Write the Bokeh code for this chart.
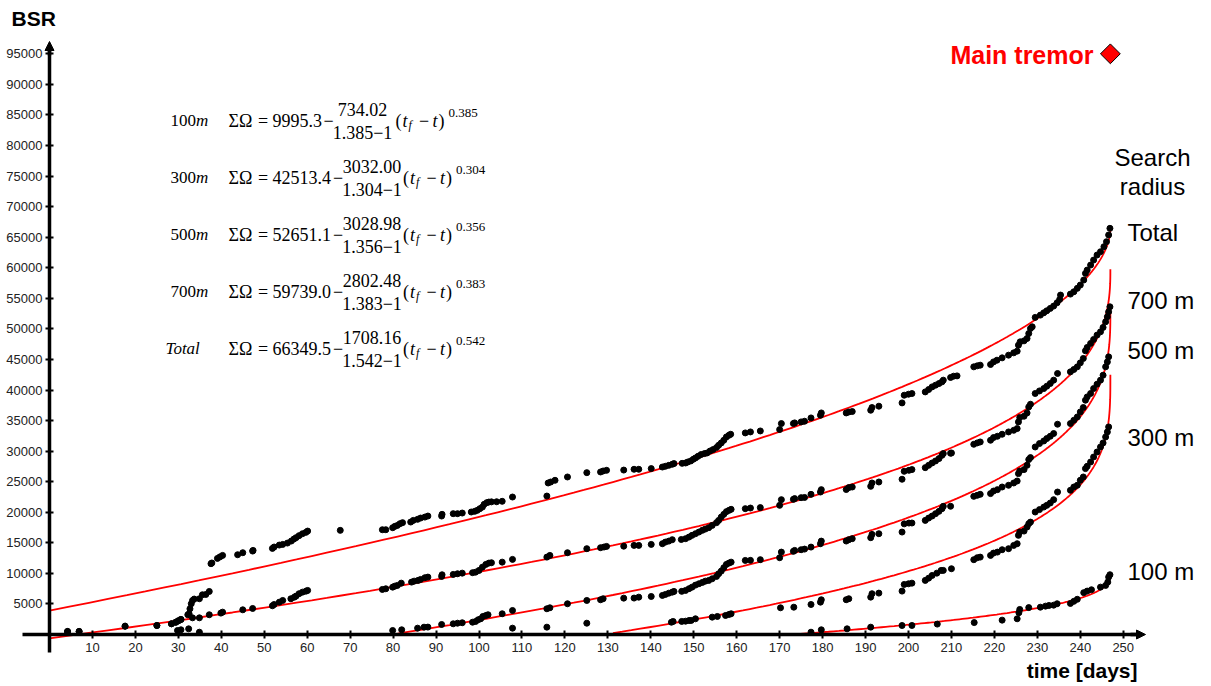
import numpy as np
from bokeh.plotting import figure
from bokeh.models import Range1d, LinearAxis, FixedTicker, Label, Arrow, NormalHead
from bokeh.embed import file_html
from bokeh.resources import INLINE

# ---------------------------------------------------------------------------
# Cumulative BSR (Benioff strain release) per search radius, day -> value
# ---------------------------------------------------------------------------
total_days = [4.2, 6.9, 17.6, 25.0, 28.4, 29.4, 30.0, 30.6, 32.2, 32.5, 32.7, 33.0, 33.3, 33.7,
              34.9, 35.6, 36.4, 37.2, 37.6, 37.8, 39.1, 39.7, 40.3, 43.8, 45.0, 47.3, 47.4,
              51.9, 52.3, 53.5, 54.3, 55.4, 56.3, 56.9, 57.4, 58.1, 58.9, 59.7, 60.1, 67.7,
              77.5, 78.3, 79.9, 80.4, 81.0, 81.6, 82.2, 84.1, 84.7, 85.7, 86.4, 87.4, 88.1,
              91.3, 91.4, 94.0, 95.0, 96.1, 98.2, 99.0, 99.6, 100.2, 100.8, 101.2, 101.8,
              102.3, 102.9, 104.1, 105.4, 107.8, 115.8, 116.1, 116.7, 117.7, 120.6, 125.1,
              128.3, 128.9, 129.7, 133.7, 136.1, 137.2, 140.1, 142.7, 143.4, 144.2, 145.0,
              145.4, 147.3, 148.1, 148.6, 149.3, 149.9, 150.4, 151.0, 151.7, 152.5, 153.1,
              153.8, 154.5, 155.3, 155.8, 156.4, 157.0, 157.6, 158.2, 158.6, 162.0, 163.2,
              165.5, 170.0, 170.4, 173.2, 173.5, 175.0, 175.8, 177.3, 179.5, 179.7, 185.5,
              186.1, 186.9, 191.2, 191.5, 193.1, 198.5, 199.0, 200.0, 200.8, 203.9, 204.7,
              205.5, 206.3, 207.1, 207.8, 208.1, 209.8, 210.5, 211.3, 215.2, 216.0, 216.7,
              219.1, 219.8, 220.6, 221.8, 223.3, 224.5, 225.3, 225.6, 226.0, 226.9, 227.6,
              228.0, 228.4, 228.8, 229.5, 230.7, 231.5, 232.2, 233.0, 233.8, 234.6, 235.2,
              235.4, 237.7, 238.5, 239.3, 240.0, 240.8, 241.2, 241.6, 242.4, 243.1, 243.9,
              244.7, 245.5, 246.1, 246.6, 246.9]
total_bsr = [500, 500, 1360, 1470, 1750, 2010, 2240, 2460, 3230, 3390, 4200, 5030, 5570, 5800,
             5850, 6500, 6550, 7040, 11580, 11700, 12450, 12700, 12940, 13050, 13380, 13650, 13760,
             14090, 14310, 14630, 14740, 14960, 15290, 15610, 15840, 16170, 16490, 16710, 16920, 17035,
             17140, 17140, 17470, 17690, 17850, 18130, 18300, 18400, 18670, 18840, 19050, 19210, 19380,
             19380, 19660, 19770, 19770, 19870, 20040, 20150, 20310, 20590, 20850, 21290, 21570,
             21670, 21700, 21720, 21790, 22490, 22650, 24790, 24950, 25230, 25770, 26480,
             26590, 26750, 26860, 26900, 27030, 27030, 27140, 27400, 27520, 27680, 27850,
             27960, 28000, 28060, 28220, 28390, 28670, 28880, 29160, 29440, 29600, 29700,
             30020, 30250, 30580, 30960, 31340, 31780, 32320, 32600, 32760, 32980, 33140,
             33300, 33530, 34510, 34510, 34620, 34780, 34890, 35430, 35870, 36250, 36250,
             36410, 36480, 36690, 37130, 37350, 37890, 39150, 39310, 39420, 39690, 40080,
             40510, 40790, 41060, 41330, 41610, 42050, 42260, 42310, 43790, 43950, 44060,
             44170, 44600, 44880, 45260, 45700, 46080, 46360, 47340, 47880, 48040, 48430,
             49250, 50070, 50340, 51880, 52250, 52630, 52960, 53350, 53730, 54270, 54820,
             55530, 55690, 56070, 56630, 57170, 57990, 59080, 59620, 60440, 61260, 62080,
             62620, 63440, 64260, 65360, 66450]

r700_days = [4.2, 6.9, 17.6, 25.0, 28.4, 29.4, 30.0, 30.6, 33.3, 34.9, 37.2, 39.9, 40.3, 45.0,
             47.3, 51.9, 52.3, 53.5, 54.3, 56.2, 57.0, 57.4, 58.1, 58.9, 59.7, 60.1, 77.5, 78.3,
             79.9, 80.4, 81.0, 81.9, 84.3, 84.9, 85.8, 86.4, 87.4, 88.1, 91.3, 91.4, 94.0, 95.0,
             96.1, 98.5, 99.2, 100.0, 100.8, 101.6, 102.3, 102.9, 105.4, 107.8, 115.8, 116.5,
             120.6, 125.1, 128.3, 129.1, 129.7, 133.7, 136.1, 137.2, 140.1, 142.7, 143.4, 144.2,
             145.0, 147.1, 148.1, 148.9, 149.6, 150.4, 151.2, 152.0, 152.7, 153.5, 154.3, 155.3,
             155.8, 156.4, 157.0, 157.6, 158.2, 158.7, 162.0, 163.2, 165.5, 170.0, 170.4, 173.2,
             173.5, 175.0, 175.8, 177.3, 179.5, 179.7, 185.5, 186.1, 186.9, 191.2, 191.5, 193.1,
             198.5, 199.0, 200.1, 200.8, 203.9, 204.7, 205.5, 206.3, 207.1, 207.8, 208.1, 209.8,
             210.0, 215.2, 216.0, 216.7, 219.1, 219.8, 220.7, 221.8, 223.3, 224.5, 225.3, 225.6,
             225.9, 226.9, 227.6, 228.0, 228.4, 229.5, 230.5, 231.5, 232.2, 233.0, 233.8, 234.7,
             237.7, 238.5, 239.3, 240.0, 240.7, 241.2, 241.6, 242.4, 243.1, 243.9, 244.7, 245.3,
             245.9, 246.3, 246.6, 246.9]
r700_bsr = [500, 500, 1360, 1470, 1750, 2010, 2240, 2460, 2730, 2730, 3230, 3500, 3660, 4040,
            4260, 4700, 4910, 5290, 5570, 5850, 6110, 6280, 6670, 6930, 7090, 7210, 7370, 7480,
            7750, 7910, 8030, 8400, 8570, 8730, 8850, 9010, 9290, 9390, 9500, 9770, 9830, 9940,
            10040, 10110, 10200, 10480, 11020, 11470, 11680, 11740, 11840, 12290, 12660, 12940,
            13380, 14040, 14200, 14310, 14410, 14450, 14580, 14580, 14740, 14850, 15120, 15280,
            15510, 15540, 15680, 15940, 16220, 16490, 16760, 17040, 17250, 17480, 17850, 18300,
            18670, 19210, 19660, 20100, 20310, 20480, 20590, 20690, 20760, 21130, 22060, 22110,
            22230, 22390, 22420, 22930, 23310, 23700, 23720, 24030, 24130, 24240, 24790, 24950,
            25400, 26700, 26860, 26980, 27300, 27680, 28060, 28390, 28780, 29320, 29600, 29650,
            29700, 31120, 31340, 31500, 31780, 32220, 32430, 32760, 33140, 33410, 33690, 34780,
            35490, 35710, 36250, 37230, 37670, 39430, 39850, 40240, 40620, 41060, 41610, 42700,
            42970, 43360, 43790, 44440, 45160, 46410, 46960, 47620, 48270, 48980, 49520, 50240,
            51160, 51980, 52790, 53610]

r500_days = [34.9, 79.9, 82.0, 85.7, 87.2, 88.1, 91.3, 94.0, 95.0, 96.1, 98.5, 99.2, 99.8, 100.4,
             100.9, 101.6, 102.1, 105.4, 107.8, 115.8, 116.5, 120.6, 125.1, 128.3, 128.9, 133.7,
             136.1, 137.2, 140.1, 142.7, 143.4, 144.2, 145.0, 145.4, 147.2, 148.1, 148.9, 149.6,
             150.4, 151.2, 152.0, 152.7, 153.5, 154.3, 155.3, 155.8, 156.4, 157.0, 157.6, 158.2,
             158.7, 162.0, 163.2, 165.5, 170.0, 170.4, 173.2, 173.5, 175.0, 175.8, 177.3, 179.5,
             179.7, 185.5, 186.1, 186.9, 191.2, 191.5, 193.1, 198.5, 199.0, 200.1, 200.8, 203.9,
             204.7, 205.5, 206.3, 207.1, 207.8, 208.1, 209.8, 215.2, 216.0, 216.7, 219.1, 219.8,
             220.7, 221.8, 223.3, 224.5, 225.3, 225.6, 225.9, 226.9, 227.6, 228.0, 228.4, 229.5,
             230.5, 231.5, 232.2, 233.0, 233.8, 234.7, 237.7, 238.5, 239.3, 240.0, 240.7, 241.2,
             241.6, 242.4, 243.1, 243.9, 244.7, 245.3, 245.9, 246.3, 246.6]
r500_bsr = [380, 655, 770, 1040, 1200, 1210, 1640, 1750, 1850, 1920, 2010, 2130, 2410, 2570,
            2950, 3110, 3230, 3390, 3930, 4210, 4370, 5030, 5570, 5680, 5850, 5950,
            5960, 6110, 6220, 6390, 6550, 6760, 6930, 7040, 7060, 7210, 7490, 7750,
            8080, 8300, 8520, 8730, 8850, 9120, 9500, 9940, 10370, 10930, 11470, 11680,
            11840, 12120, 12130, 12240, 12560, 13480, 13600, 13760, 13870, 13970, 14300, 14850,
            15280, 15290, 15510, 15680, 15840, 16380, 16490, 16760, 18100, 18230, 18240, 18670,
            19050, 19380, 19770, 20150, 20590, 20970, 20980, 22600, 22770, 22930, 23050, 23470,
            23700, 24130, 24410, 24790, 25110, 26320, 26750, 26980, 27680, 28620, 28940, 30680,
            31240, 31660, 32060, 32430, 32880, 34400, 34510, 35050, 35590, 36410, 37130, 38330,
            38870, 39430, 40240, 40950, 41610, 42420, 43790, 44600, 45420]

r300_days = [29.8, 30.6, 32.4, 107.8, 115.8, 125.1, 144.8, 145.2, 147.2, 148.1, 148.9, 149.4,
             150.4, 154.3, 155.5, 157.4, 158.2, 158.7, 170.2, 173.3, 177.3, 179.5, 179.7, 185.5,
             186.1, 191.2, 191.5, 193.1, 198.5, 199.0, 200.0, 200.8, 203.9, 204.7, 205.5, 206.6,
             207.6, 208.1, 210.0, 215.2, 216.0, 216.7, 219.1, 219.8, 220.7, 221.8, 223.3, 224.5,
             225.3, 225.6, 225.9, 226.9, 227.6, 228.0, 228.4, 229.5, 230.5, 231.5, 232.2, 233.0,
             233.8, 234.7, 237.7, 238.5, 239.3, 240.0, 240.7, 241.2, 241.6, 242.4, 243.1, 243.9,
             244.7, 245.3, 245.9, 246.3, 246.6]
r300_bsr = [650, 770, 930, 1040, 1200, 1850, 2010, 2130, 2140, 2180, 2290, 2300,
            2570, 2840, 2950, 3110, 3280, 3390, 4370, 4470, 4910, 5290, 5680, 5690,
            5850, 6110, 6670, 6770, 7100, 8190, 8300, 8400, 8850, 9220, 9660, 10040,
            10480, 10490, 10760, 12240, 12560, 12660, 12940, 13320, 13480, 13870, 14040, 14580,
            14850, 16220, 16760, 16920, 17580, 18130, 18390, 20040, 20430, 20850, 21130, 21510,
            22060, 23310, 23590, 24130, 24410, 25230, 25770, 27140, 27520, 28220, 29040, 29860,
            30680, 31340, 32320, 33140, 33960]

r100_days = [177.3, 179.7, 185.7, 191.2, 198.5, 200.8, 206.7, 215.3, 221.8, 225.3, 225.7, 225.9,
             228.0, 230.7, 231.9, 232.7, 233.8, 234.6, 237.7, 238.5, 239.3, 240.8, 241.6, 242.6,
             244.7, 245.9, 246.4, 246.6, 246.9]
r100_bsr = [380, 770, 930, 1200, 1470, 1480, 1700, 1950, 2350, 2570, 3570, 4100,
            4400, 4470, 4640, 4750, 4800, 5030, 5080, 5430, 5760, 6850, 7100, 7320,
            7750, 8030, 8570, 9390, 9780]

# Fitted accelerating-release curves: SO = A - B/(m-1) * (tf - t)^(m-1)
fit_labels = ["100", "300", "500", "700", "Total"]
fit_A = [9995.3, 42513.4, 52651.1, 59739.0, 66349.5]
fit_B = [734.02, 3032.00, 3028.98, 2802.48, 1708.16]
fit_m = [1.385, 1.304, 1.356, 1.383, 1.542]
t_failure = 247.0

main_tremor_day = 247.0
main_tremor_bsr = 95000

radius_labels = ["Total", "700 m", "500 m", "300 m", "100 m"]

x_ticks = list(range(10, 251, 10))
y_ticks = list(range(5000, 95001, 5000))

# ---------------------------------------------------------------------------
# Canvas geometry (the frame fills the whole page; axes cross at the origin)
# ---------------------------------------------------------------------------
W, H = 1211, 686
PX_PER_DAY = 4.295
X_ORIGIN_PX = 49.0
UNITS_PER_PX = 163.6
Y_ORIGIN_PX = 634.0
x0 = -X_ORIGIN_PX / PX_PER_DAY
x1 = x0 + W / PX_PER_DAY
y1 = Y_ORIGIN_PX * UNITS_PER_PX
y0 = y1 - H * UNITS_PER_PX


def cx(px):
    return x0 + px / PX_PER_DAY


def cy(py):
    return y1 - py * UNITS_PER_PX


p = figure(width=W, height=H, x_range=Range1d(x0, x1), y_range=Range1d(y0, y1),
           x_axis_location=None, y_axis_location=None, toolbar_location=None,
           output_backend="svg", min_border=0, outline_line_color=None,
           background_fill_color="white", border_fill_color="white")
p.grid.grid_line_color = None

SANS = "Liberation Sans"
SERIF = "Liberation Serif"

xaxis = LinearAxis(fixed_location=0, ticker=FixedTicker(ticks=x_ticks),
                   bounds=(cx(22), cx(1138)))
yaxis = LinearAxis(fixed_location=0, ticker=FixedTicker(ticks=y_ticks),
                   bounds=(cy(652), cy(48)))
for ax in (xaxis, yaxis):
    ax.axis_line_width = 3.5
    ax.axis_line_color = "black"
    ax.major_tick_in = 4
    ax.major_tick_out = 4
    ax.major_tick_line_width = 2
    ax.major_tick_line_color = "black"
    ax.minor_tick_line_color = None
    ax.major_label_text_font = SANS
    ax.major_label_text_font_size = "13px"
    ax.major_label_text_color = "#222222"
xaxis.major_label_standoff = 4
yaxis.major_label_standoff = 3
p.add_layout(xaxis, "below")
p.add_layout(yaxis, "left")

# arrow heads at the positive ends of both axes
p.add_layout(Arrow(end=NormalHead(size=9, fill_color="black", line_color="black"),
                   x_start=cx(1130), y_start=0, x_end=cx(1145), y_end=0,
                   line_width=3.5, line_color="black"))
p.add_layout(Arrow(end=NormalHead(size=9, fill_color="black", line_color="black"),
                   x_start=0, y_start=cy(55), x_end=0, y_end=cy(41),
                   line_width=3.5, line_color="black"))

# fitted curves: start at t = 0, or at the zero crossing when the curve begins well below it
s = np.concatenate([[0.0], np.geomspace(1e-5, t_failure, 900)])
t = np.sort(t_failure - s)
for A, B, m in zip(fit_A, fit_B, fit_m):
    y = A - B / (m - 1.0) * (t_failure - t) ** (m - 1.0)
    floor = -700 if y[0] > -700 else 0
    keep = (t >= 0) & (y >= floor)
    p.line(t[keep], y[keep], line_color="#ff0000", line_width=1.8)

# observed cumulative release
for days, vals in [(total_days, total_bsr), (r700_days, r700_bsr), (r500_days, r500_bsr),
                   (r300_days, r300_bsr), (r100_days, r100_bsr)]:
    p.scatter(days, vals, size=6, fill_color="black", line_color="black")

# main tremor
p.scatter([main_tremor_day], [main_tremor_bsr], marker="square", angle=np.pi / 4, size=14,
          fill_color="#ff0000", line_color="black", line_width=1)


def label(px, py, text, font=SANS, size="24px", style="normal", align="left",
          color="black"):
    p.add_layout(Label(x=cx(px), y=cy(py), text=text, text_font=font, text_font_size=size,
                       text_font_style=style, text_align=align, text_baseline="middle",
                       text_color=color))


label(11, 18, "BSR", size="21px", style="bold")
label(1137, 670, "time [days]", size="21px", style="bold", align="right")
label(1093, 54, "Main tremor", size="25px", style="bold", align="right", color="#ff0000")
label(1152, 157, "Search", align="center")
label(1152, 186, "radius", align="center")
for txt, py in zip(radius_labels, [232, 300, 350, 437, 571]):
    label(1127, py, txt)

# fitted equations
EQ = "18px"
for i, (name, A, B, m) in enumerate(zip(fit_labels, fit_A, fit_B, fit_m)):
    mid = 120 + 57 * i
    a_str = f"{A:.1f}"
    shift = 9.5 * (len(a_str) - 6)
    if name == "Total":
        label(165, mid, "Total", font=SERIF, size="17px", style="italic")
    else:
        label(170, mid, name, font=SERIF, size="17px")
        label(195.5, mid, "m", font=SERIF, size="17px", style="italic")
    label(228, mid, "\u03a3\u03a9", font=SERIF, size=EQ)
    label(262.5, mid, "=", font=SERIF, size=EQ, align="center")
    label(272, mid, a_str, font=SERIF, size=EQ)
    label(328 + shift, mid, "\u2212", font=SERIF, size=EQ, align="center")
    fx = 362 + shift
    label(fx, mid - 11, f"{B:.2f}", font=SERIF, size=EQ, align="center")
    label(fx, mid + 12, f"{m:.3f}\u22121", font=SERIF, size=EQ, align="center")
    px0 = 395 + 0.8 * shift
    label(px0, mid, "(", font=SERIF, size=EQ)
    label(px0 + 7, mid, "t", font=SERIF, size=EQ, style="italic")
    label(px0 + 13, mid + 4, "f", font=SERIF, size="12px", style="italic")
    label(px0 + 23.5, mid, "\u2212", font=SERIF, size=EQ)
    label(px0 + 37, mid, "t", font=SERIF, size=EQ, style="italic")
    label(px0 + 43, mid, ")", font=SERIF, size=EQ)
    label(px0 + 53, mid - 8, f"{m - 1:.3f}", font=SERIF, size="13px")

open("out.html", "w").write(file_html(p, INLINE))
